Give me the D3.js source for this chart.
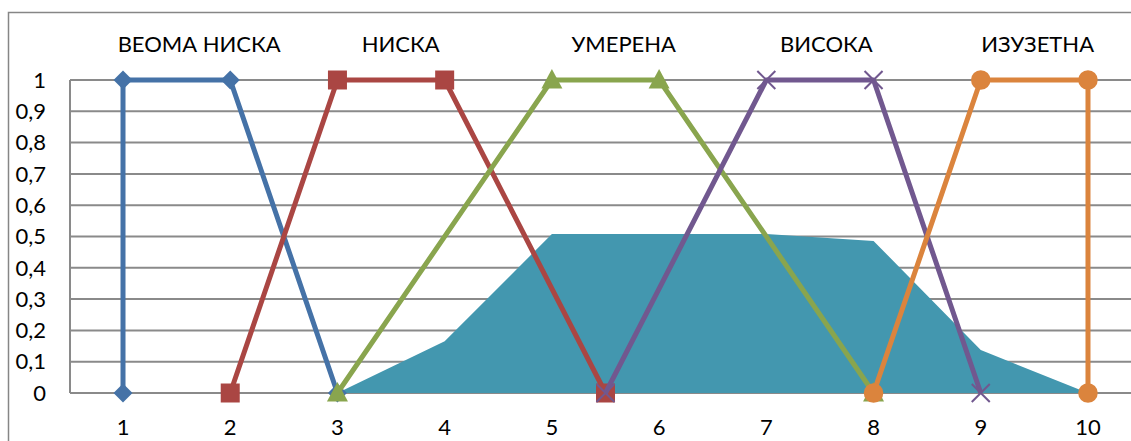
<!DOCTYPE html>
<html><head><meta charset="utf-8">
<script src="https://cdn.jsdelivr.net/npm/d3@7"></script>
<style>body{margin:0;background:#fff;} svg{display:block;}</style>
</head><body>
<svg id="c" width="1131" height="441"></svg>
<script>
const xTicks = [1,2,3,4,5,6,7,8,9,10];
const yTicks = [0,0.1,0.2,0.3,0.4,0.5,0.6,0.7,0.8,0.9,1];
const seriesNames = ["ВЕОМА НИСКА","НИСКА","УМЕРЕНА","ВИСОКА","ИЗУЗЕТНА"];
const veomaNiska = [[1,0],[1,1],[2,1],[3,0]];
const niska = [[2,0],[3,1],[4,1],[5.5,0]];
const umerena = [[3,0],[5,1],[6,1],[8,0]];
const visoka = [[5.5,0],[7,1],[8,1],[9,0]];
const izuzetna = [[8,0],[9,1],[10,1],[10,0]];
const areaX = [1,2,3,4,5,6,7,8,9,10];
const areaY = [0,0,0,0.165,0.508,0.508,0.508,0.486,0.137,0];
const labelX = [1.71,3.59,5.67,7.56,9.53];

const colors = ["#4572A7","#AA4643","#89A54E","#71588F","#DB843D"];
const markers = ["diamond","square","triangle","x","circle"];
const series = [veomaNiska,niska,umerena,visoka,izuzetna];

const svg = d3.select("#c");
const font = "Lato, 'Open Sans', sans-serif";
const x = d3.scaleLinear().domain([0.5,10.5]).range([69.4,1141.6]);
const y = d3.scaleLinear().domain([0,1]).range([393,80]);

// chart border
svg.append("path").attr("d","M8.5,441 L8.5,12.5 L1131,12.5").attr("fill","none").attr("stroke","#868686").attr("stroke-width",1.5);

// gridlines
svg.append("g").selectAll("line").data(yTicks).join("line")
  .attr("x1",70).attr("x2",1131).attr("y1",d=>y(d)).attr("y2",d=>y(d))
  .attr("stroke","#8a8a8a").attr("stroke-width",2);
svg.append("line").attr("x1",70).attr("x2",70).attr("y1",y(1)).attr("y2",y(0)).attr("stroke","#8a8a8a").attr("stroke-width",2);

// y tick labels
svg.append("g").selectAll("text").data(yTicks).join("text")
  .attr("x",46).attr("y",d=>y(d)).attr("dy","0.35em").attr("text-anchor","end")
  .attr("font-family",font).attr("font-size",22).attr("fill","#000")
  .text(d=>d===0?"0":d===1?"1":d3.format(".1f")(d).replace(".",","));
// x tick labels
svg.append("g").selectAll("text").data(xTicks).join("text")
  .attr("x",d=>x(d)).attr("y",427).attr("dy","0.35em").attr("text-anchor","middle")
  .attr("font-family",font).attr("font-size",22).attr("fill","#000").text(d=>d);

// area
const areaData = areaX.map((v,i)=>[v,areaY[i]]);
svg.append("path").datum(areaData)
  .attr("d",d3.area().x(d=>x(d[0])).y0(y(0)).y1(d=>y(d[1])))
  .attr("fill","#4397AF");

// lines
const line = d3.line().x(d=>x(d[0])).y(d=>y(d[1]));
series.forEach((s,i)=>{
  const g = svg.append("g");
  g.append("path").datum(s).attr("d",line).attr("fill","none")
    .attr("stroke",colors[i]).attr("stroke-width",5).attr("stroke-linejoin","round");
  const m = markers[i];
  g.selectAll(".m").data(s).join("path")
    .attr("transform",d=>`translate(${x(d[0])},${y(d[1])})`)
    .attr("d",()=>{
      if(m==="diamond") return "M0,-9.5L9.5,0L0,9.5L-9.5,0Z";
      if(m==="square") return "M-9.5,-9.5H9.5V9.5H-9.5Z";
      if(m==="triangle") return "M0,-11L10.5,8.5H-10.5Z";
      if(m==="circle") return d3.symbol(d3.symbolCircle,300)();
      return "M-9,-9L9,9M-9,9L9,-9";
    })
    .attr("fill",m==="x"?"none":colors[i])
    .attr("stroke",colors[i]).attr("stroke-width",m==="x"?2:0);
});

// series labels
svg.append("g").selectAll("text").data(seriesNames).join("text")
  .attr("x",(d,i)=>x(labelX[i])).attr("y",52).attr("text-anchor","middle")
  .attr("font-family",font).attr("font-size",22).attr("fill","#000").text(d=>d);
</script>
</body></html>
